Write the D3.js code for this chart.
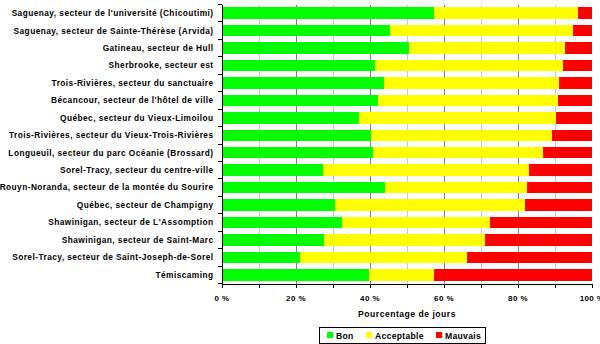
<!DOCTYPE html>
<html><head><meta charset="utf-8">
<script src="https://cdn.jsdelivr.net/npm/d3@7"></script>
<style>body{margin:0;background:#fff}svg{display:block}text{font-family:"Liberation Sans",Arial,sans-serif;font-weight:bold;fill:#000}</style>
</head><body><svg id="c" width="600" height="344"></svg>
<script>
const categories = [
  "Saguenay, secteur de l'université (Chicoutimi)",
  "Saguenay, secteur de Sainte-Thérèse (Arvida)",
  "Gatineau, secteur de Hull",
  "Sherbrooke, secteur est",
  "Trois-Rivières, secteur du sanctuaire",
  "Bécancour, secteur de l'hôtel de ville",
  "Québec, secteur du Vieux-Limoilou",
  "Trois-Rivières, secteur du Vieux-Trois-Rivières",
  "Longueuil, secteur du parc Océanie (Brossard)",
  "Sorel-Tracy, secteur du centre-ville",
  "Rouyn-Noranda, secteur de la montée du Sourire",
  "Québec, secteur de Champigny",
  "Shawinigan, secteur de L'Assomption",
  "Shawinigan, secteur de Saint-Marc",
  "Sorel-Tracy, secteur de Saint-Joseph-de-Sorel",
  "Témiscaming"
];
const bon        = [57.4, 45.3, 50.5, 41.4, 43.8, 42.1, 37.0, 40.2, 40.8, 27.3, 44.1, 30.6, 32.5, 27.5, 21.0, 39.7];
const acceptable = [38.7, 49.6, 42.3, 50.7, 47.4, 48.8, 53.4, 49.0, 46.0, 55.6, 38.2, 51.2, 39.8, 43.7, 45.2, 17.7];
const mauvais    = [3.9, 5.1, 7.2, 7.9, 8.8, 9.1, 9.6, 10.8, 13.2, 17.1, 17.7, 18.2, 27.7, 28.8, 33.8, 42.6];
const seriesNames = ["Bon", "Acceptable", "Mauvais"];
const seriesColors = ["#00ff00", "#ffff00", "#ff0000"];
const xTicks = [0, 20, 40, 60, 80, 100];
const xTitle = "Pourcentage de jours";

const svg = d3.select("#c");
const L = 222, R = 592, T = 4.5, B = 283.5;
const x = d3.scaleLinear().domain([0, 100]).range([L, R]);
const y = d3.scaleBand().domain(categories).range([T, B]).paddingInner(0.34).paddingOuter(0.17);

// minor gridlines
svg.append("g").selectAll("line").data(d3.range(10, 100, 20)).join("line")
  .attr("x1", d => x(d)).attr("x2", d => x(d)).attr("y1", T).attr("y2", B)
  .attr("stroke", "#c8c8c8").attr("stroke-width", 1).attr("shape-rendering", "crispEdges");
// major gridlines
svg.append("g").selectAll("line").data([20, 40, 60, 80]).join("line")
  .attr("x1", d => x(d)).attr("x2", d => x(d)).attr("y1", T).attr("y2", B)
  .attr("stroke", "#808080").attr("stroke-width", 1).attr("shape-rendering", "crispEdges");

const stackData = categories.map((c, i) => ({cat: c, Bon: bon[i], Acceptable: acceptable[i], Mauvais: mauvais[i]}));
const stacked = d3.stack().keys(seriesNames)(stackData);

svg.append("g").selectAll("g").data(stacked).join("g")
  .attr("fill", (d, i) => seriesColors[i])
  .selectAll("rect").data(d => d).join("rect")
  .attr("x", d => x(d[0])).attr("width", d => x(d[1]) - x(d[0]))
  .attr("y", d => y(d.data.cat)).attr("height", y.bandwidth())
  .attr("shape-rendering", "crispEdges");

// y axis
const yAxisG = svg.append("g").attr("shape-rendering", "crispEdges");
yAxisG.append("line").attr("x1", L).attr("x2", L).attr("y1", T).attr("y2", B).attr("stroke", "#000");
const bounds = d3.range(categories.length + 1).map(i => T + i * y.step());
yAxisG.selectAll("line.t").data(bounds).join("line").attr("class", "t")
  .attr("x1", L - 4).attr("x2", L).attr("y1", d => d).attr("y2", d => d).attr("stroke", "#000");
svg.append("g").selectAll("text").data(categories).join("text")
  .attr("x", 213.5).attr("y", d => y(d) + y.bandwidth() / 2)
  .attr("dy", "0.35em").attr("text-anchor", "end").attr("font-size", 8.3)
  .attr("letter-spacing", 0.45)
  .text(d => d);

// x axis
const xAxis = d3.axisBottom(x).tickValues(d3.range(0, 101, 10)).tickSize(4).tickFormat("");
const xg = svg.append("g").attr("transform", `translate(0,${B})`).call(xAxis);
xg.select(".domain").attr("stroke", "#000").attr("shape-rendering", "crispEdges");
xg.selectAll(".tick line").attr("stroke", "#000").attr("shape-rendering", "crispEdges");
svg.append("g").selectAll("text").data(xTicks).join("text")
  .attr("x", d => x(d)).attr("y", 298).attr("dy", "0.35em").attr("text-anchor", "middle")
  .attr("font-size", 8).attr("letter-spacing", 0.4).text(d => d + " %");

svg.append("text").attr("x", 407).attr("y", 314).attr("dy", "0.35em")
  .attr("text-anchor", "middle").attr("font-size", 8.6).attr("letter-spacing", 0.5).text(xTitle);

// legend
const lg = svg.append("g");
lg.append("rect").attr("x", 319.5).attr("y", 327.5).attr("width", 166).attr("height", 16)
  .attr("fill", "#fff").attr("stroke", "#000");
const legX = [327, 366, 436];
seriesNames.forEach((n, i) => {
  lg.append("rect").attr("x", legX[i]).attr("y", 332).attr("width", 6).attr("height", 6).attr("fill", seriesColors[i]);
  lg.append("text").attr("x", legX[i] + 9).attr("y", 335.5).attr("dy", "0.35em").attr("font-size", 8.6)
    .attr("letter-spacing", 0.3).text(n);
});
</script></body></html>
